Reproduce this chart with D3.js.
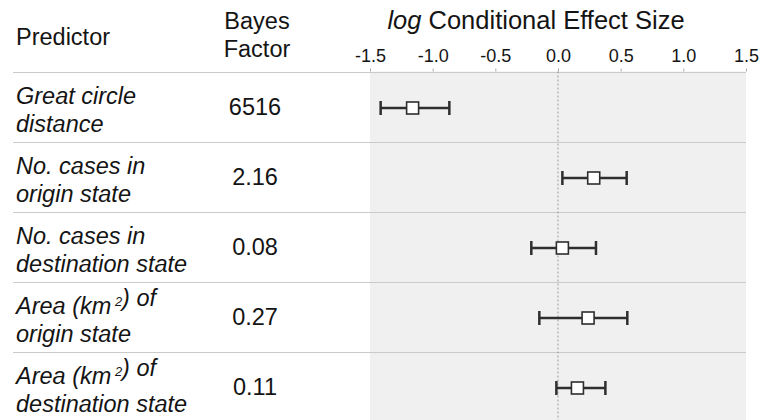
<!DOCTYPE html>
<html><head><meta charset="utf-8">
<script src="https://cdn.jsdelivr.net/npm/d3@7"></script>
<style>
body{margin:0;background:#fff;}
text{font-family:"Liberation Sans",Arial,Helvetica,sans-serif;fill:#141414;}
</style></head>
<body><svg id="c" width="759" height="420"></svg>
<script>
const predictorLine1 = ["Great circle", "No. cases in", "No. cases in", "Area (km|2|) of", "Area (km|2|) of"];
const predictorLine2 = ["distance", "origin state", "destination state", "origin state", "destination state"];
const bayesFactors = ["6516", "2.16", "0.08", "0.27", "0.11"];
const effectMean = [-1.16, 0.285, 0.035, 0.24, 0.155];
const effectLow  = [-1.415, 0.035, -0.213, -0.149, -0.013];
const effectHigh = [-0.867, 0.548, 0.303, 0.553, 0.378];
const tickValues = [-1.5, -1.0, -0.5, 0.0, 0.5, 1.0, 1.5];

const svg = d3.select("#c");
const x = d3.scaleLinear().domain([-1.5, 1.5]).range([370, 746]);
const rows = d3.range(predictorLine1.length);
const y = d3.scaleBand().domain(rows).range([71.5, 421.5]);
const fs = 23.5;

// gray plot background
svg.append("rect").attr("x", x(-1.5)).attr("y", y(0)).attr("width", x(1.5)-x(-1.5))
  .attr("height", 420 - y(0)).attr("fill", "#f0f0f0");

// row separators
svg.selectAll("line.sep").data(rows).join("line").attr("class","sep")
  .attr("x1", 13).attr("x2", x(1.5))
  .attr("y1", d => Math.round(y(d)) + 0.5).attr("y2", d => Math.round(y(d)) + 0.5)
  .attr("stroke", "#cacaca").attr("stroke-width", 1);

// zero reference line
svg.append("line").attr("x1", x(0)).attr("x2", x(0)).attr("y1", y(0)).attr("y2", 420)
  .attr("stroke", "#9a9a9a").attr("stroke-width", 1).attr("stroke-dasharray", "2,2");

// axis
const axis = d3.axisTop(x).tickValues(tickValues).tickSize(3).tickSizeOuter(0);
const ag = svg.append("g").attr("transform", `translate(0,${y(0)})`).call(axis);
ag.select(".domain").remove();
ag.selectAll(".tick line").attr("stroke", "#aaa");
ag.selectAll(".tick text").attr("font-size", 18).attr("fill", "#141414")
  .attr("font-family", '"Liberation Sans",Arial,sans-serif').attr("dy", "-0.2em")
  .text(d => d3.format(".1f")(d).replace("−", "-"));

// headers
svg.append("text").attr("x", 16).attr("y", 45).attr("font-size", fs).text("Predictor");
svg.append("text").attr("x", 257).attr("y", 29).attr("font-size", fs).attr("text-anchor","middle").text("Bayes");
svg.append("text").attr("x", 257).attr("y", 57).attr("font-size", fs).attr("text-anchor","middle").text("Factor");
const t = svg.append("text").attr("x", 536).attr("y", 29).attr("font-size", 25.5).attr("text-anchor","middle");
t.append("tspan").attr("font-style","italic").text("log");
t.append("tspan").text(" Conditional Effect Size");

// row labels
const lab = svg.selectAll("g.lab").data(rows).join("g").attr("class","lab");
function addRich(sel, str) {
  const parts = str.split("|");
  parts.forEach((p, i) => {
    if (i % 2 === 1) {
      sel.append("tspan").attr("font-size", fs*0.55).attr("dy", -fs*0.33).text(" " + p);
      sel.append("tspan").attr("dy", fs*0.33).text("");
    } else sel.append("tspan").text(p);
  });
}
lab.each(function(d){
  const g = d3.select(this);
  const c = y(d) + y.bandwidth()/2;
  const t1 = g.append("text").attr("x", 16).attr("y", c - 3).attr("font-size", fs).attr("font-style","italic");
  addRich(t1, predictorLine1[d]);
  g.append("text").attr("x", 16).attr("y", c + 25.5).attr("font-size", fs).attr("font-style","italic").text(predictorLine2[d]);
  g.append("text").attr("x", 255).attr("y", c + 8.5).attr("font-size", fs).attr("text-anchor","middle").text(bayesFactors[d]);
});

// error bars
const eb = svg.selectAll("g.eb").data(rows).join("g").attr("class","eb")
  .attr("transform", d => `translate(0,${y(d) + y.bandwidth()/2 + 1.5})`);
eb.append("line").attr("x1", d => x(effectLow[d])).attr("x2", d => x(effectHigh[d]))
  .attr("stroke", "#2e2e2e").attr("stroke-width", 2.5);
eb.append("line").attr("x1", d => x(effectLow[d])).attr("x2", d => x(effectLow[d]))
  .attr("y1", -7).attr("y2", 7).attr("stroke", "#2e2e2e").attr("stroke-width", 2.5);
eb.append("line").attr("x1", d => x(effectHigh[d])).attr("x2", d => x(effectHigh[d]))
  .attr("y1", -7).attr("y2", 7).attr("stroke", "#2e2e2e").attr("stroke-width", 2.5);
eb.append("rect").attr("x", d => x(effectMean[d]) - 6).attr("y", -6)
  .attr("width", 12).attr("height", 12).attr("fill", "#fff").attr("stroke", "#2e2e2e").attr("stroke-width", 1.6);
</script></body></html>
